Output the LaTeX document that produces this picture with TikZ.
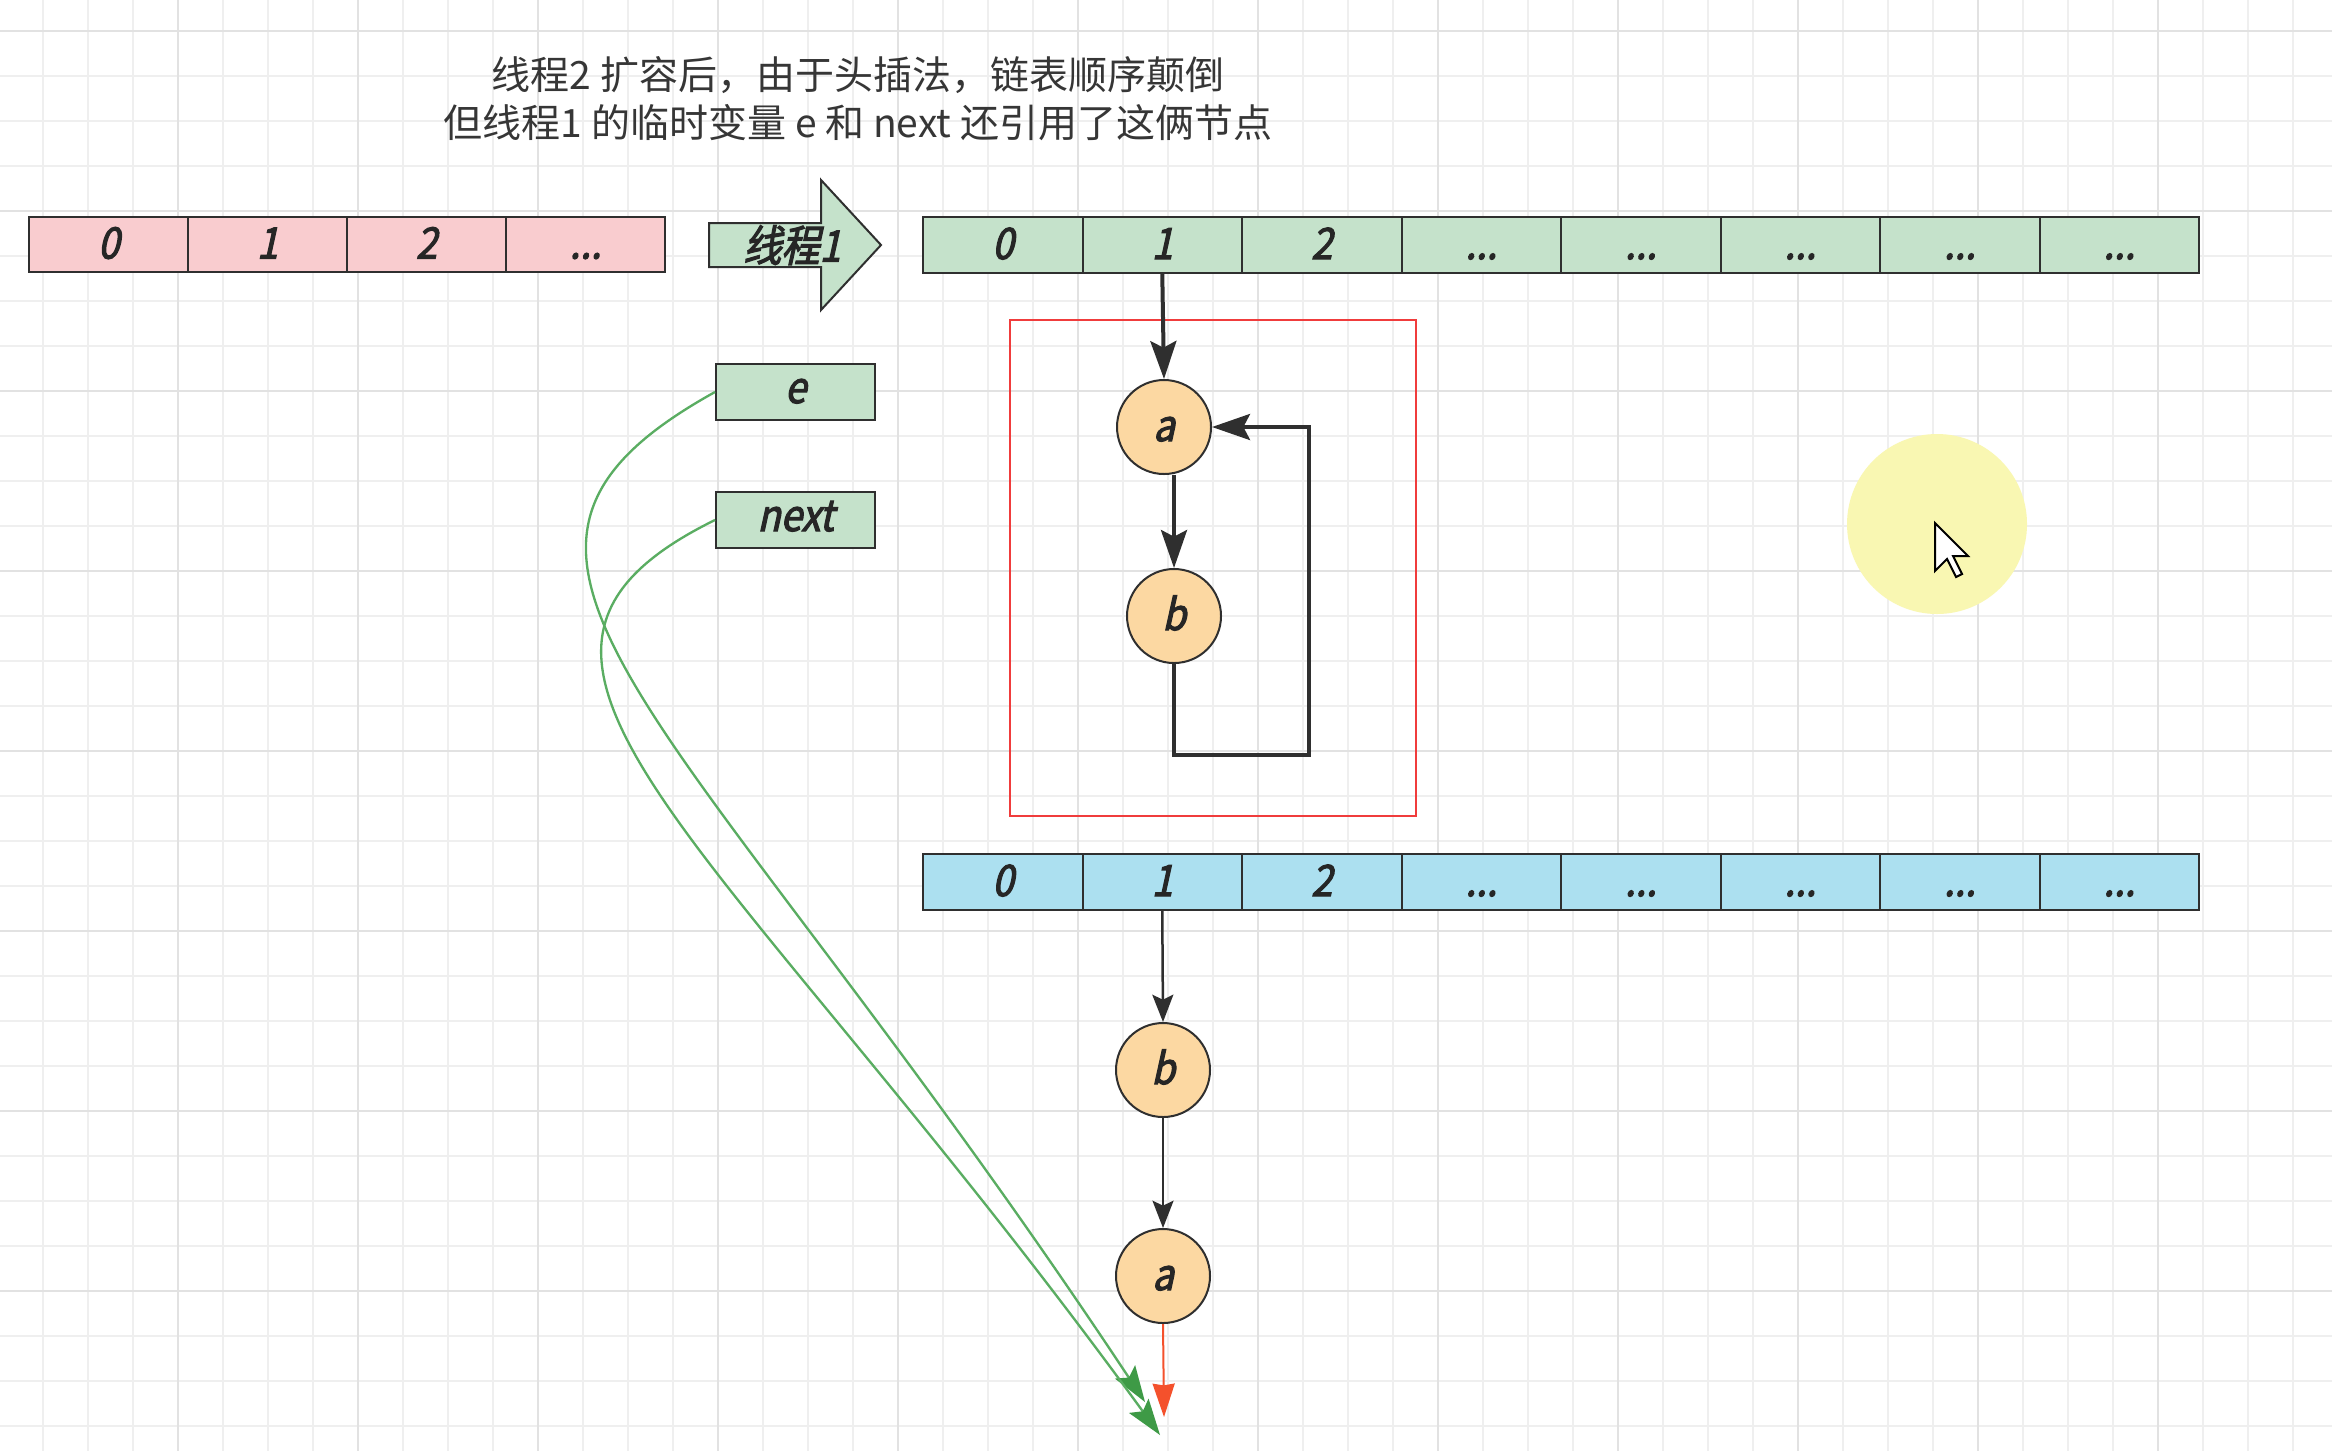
\documentclass[tikz,border=0pt]{standalone}
\usepackage{fontspec}
\usetikzlibrary{arrows.meta}
\newfontfamily\cjk{Noto Sans CJK SC}
\newfontfamily\lblfont[FakeBold=2.6,FakeSlant=0.22,FakeStretch=0.88]{Noto Sans CJK SC}
\newcommand{\cdts}{...}
\definecolor{gridminor}{HTML}{EFEFEF}
\definecolor{gridmajor}{HTML}{E2E2E2}
\definecolor{pinkfill}{HTML}{F9CCCF}
\definecolor{greenfill}{HTML}{C5E2CB}
\definecolor{bluefill}{HTML}{ACE0F0}
\definecolor{orangefill}{HTML}{FCD8A2}
\definecolor{strokec}{HTML}{2F2F2F}
\definecolor{titlec}{HTML}{363636}
\definecolor{curvec}{HTML}{5AAD62}
\definecolor{curvetip}{HTML}{3E9A46}
\definecolor{redarrc}{HTML}{F4512C}
\definecolor{redboxc}{HTML}{F03C3C}
\definecolor{hilite}{HTML}{F9F7B2}
\begin{document}
\begin{tikzpicture}[x=0.3pt,y=-0.3pt,
  lbl/.style={font=\lblfont\fontsize{13}{13}\selectfont, text=black!85},
  cellbox/.style={lbl, draw=strokec, line width=0.6pt, inner sep=0pt, outer sep=0pt,
    minimum height=16.8pt, minimum width=47.85pt, anchor=north west,
    text height=8.4pt, text depth=0pt},
  circnode/.style={lbl, circle, draw=strokec, fill=orangefill, line width=0.6pt,
    inner sep=0pt, minimum size=28.2pt, text height=8.4pt, text depth=0pt},
  varbox/.style={lbl, draw=strokec, fill=greenfill, line width=0.6pt, inner sep=0pt,
    minimum width=47.7pt, minimum height=16.8pt, text height=8.4pt, text depth=1.8pt},
  blk/.style={draw=strokec, line width=1.2pt, -{Stealth[length=11.4pt,width=7.8pt,inset=2pt]}},
  blks/.style={draw=strokec, line width=0.75pt, -{Stealth[length=8.2pt,width=6.3pt,inset=1.5pt]}},
  grnarr/.style={draw=curvec, line width=0.7pt, -{Stealth[length=10.8pt,width=7.2pt,inset=2pt,fill=curvetip,color=curvetip]}},
  redarr/.style={draw=redarrc, line width=0.6pt, -{Stealth[length=10pt,width=6.6pt,inset=0.5pt,fill=redarrc]}}
]
\useasboundingbox (0,0) rectangle (2332,1451);
\fill[white] (0,0) rectangle (2332,1451);
% grid
\foreach \gx in {43,88,...,2332} \draw[gridminor, line width=0.45pt] (\gx,0) -- (\gx,1451);
\foreach \gy in {31,76,...,1451} \draw[gridminor, line width=0.45pt] (0,\gy) -- (2332,\gy);
\foreach \gx in {178,358,...,2332} \draw[gridmajor, line width=0.7pt] (\gx,0) -- (\gx,1451);
\foreach \gy in {31,211,...,1451} \draw[gridmajor, line width=0.7pt] (0,\gy) -- (2332,\gy);

% highlight + cursor
\fill[hilite] (1937,524) circle[radius=90];
\draw[fill=white, draw=black, line width=0.6pt, line join=miter]
  (1935,523) -- (1935,571) -- (1947,559) -- (1956,577) -- (1962,574) -- (1953,556) -- (1968,556) -- cycle;

% title
\node[font=\cjk\fontsize{11.7}{14.4}\selectfont, text=titlec, align=center] (title) at (858,99)
  {线程2 扩容后，由于头插法，链表顺序颠倒\\但线程1 的临时变量 e 和 next 还引用了这俩节点};

% pink array
\foreach \i/\t in {0/0,1/1,2/2,3/\cdts}
  \node[cellbox, fill=pinkfill, minimum width=47.7pt, minimum height=16.5pt] (p\i) at ({29+159*\i},217) {\t};
\draw[strokec, line width=0.85pt] (p0.north west) rectangle (p3.south east);

% big arrow
\draw[fill=greenfill, draw=strokec, line width=0.6pt, line join=miter]
  (709,223) -- (821,223) -- (821,180) -- (881,245) -- (821,310) -- (821,267) -- (709,267) -- cycle;
\node[lbl] (t1) at (792,245) {线程1};

% green array
\foreach \i/\t in {0/0,1/1,2/2,3/\cdts,4/\cdts,5/\cdts,6/\cdts,7/\cdts}
  \node[cellbox, fill=greenfill] (g\i) at ({923+159.5*\i},217) {\t};
\draw[strokec, line width=0.85pt] (g0.north west) rectangle (g7.south east);

% blue array
\foreach \i/\t in {0/0,1/1,2/2,3/\cdts,4/\cdts,5/\cdts,6/\cdts,7/\cdts}
  \node[cellbox, fill=bluefill] (b\i) at ({923+159.5*\i},854) {\t};
\draw[strokec, line width=0.85pt] (b0.north west) rectangle (b7.south east);

% variables
\node[varbox] (e) at (795.5,392) {e};
\node[varbox] (nx) at (795.5,520) {next};

% top list
\node[circnode] (ta) at (1164,427) {a};
\node[circnode] (tb) at (1174,616) {b};
\draw[redboxc, line width=0.8pt] (1010,320) rectangle (1416,816);
\draw[blk] (g1.south) -- (ta.north);
\draw[blk] (tb.north |- ta.south) -- (tb.north);
\coordinate (lc) at (1309,755);
\draw[blk, line join=miter] (tb.south) |- (lc) |- (ta.east);

% bottom list
\node[circnode] (bb) at (1163,1070) {b};
\node[circnode] (ba) at (1163,1276) {a};
\draw[blks] (b1.south) -- (bb.north);
\draw[blks] (bb.south) -- (ba.north);
\coordinate (rtip) at (1164,1417);
\draw[redarr] (ba.south) -- (rtip);

% green curves
\coordinate (etip) at (1145,1402);
\coordinate (ntip) at (1160,1435);
\draw[grnarr] (e.west) .. controls (412,560) and (680,700) .. (etip);
\draw[grnarr] (nx.west) .. controls (430,660) and (720,830) .. (ntip);
\end{tikzpicture}
\end{document}
